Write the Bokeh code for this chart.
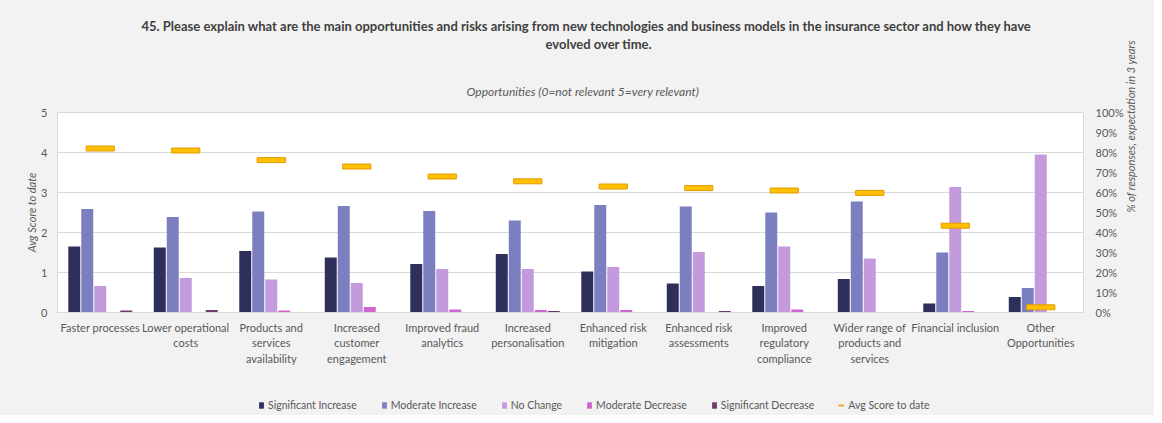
import math
from bokeh.plotting import figure
from bokeh.layouts import column
from bokeh.models import (Range1d, LinearAxis, FixedTicker, Legend, LegendItem, Title,
                          PrintfTickFormatter, ColumnDataSource)
from bokeh.transform import dodge
from bokeh.embed import file_html
from bokeh.resources import INLINE

# ---------------- data ----------------
categories = ["Faster processes", "Lower operational costs", "Products and services availability",
              "Increased customer engagement", "Improved fraud analytics", "Increased personalisation",
              "Enhanced risk mitigation", "Enhanced risk assessments", "Improved regulatory compliance",
              "Wider range of products and services", "Financial inclusion", "Other Opportunities"]
category_labels = ["Faster processes", "Lower operational\ncosts", "Products and\nservices\navailability",
                   "Increased\ncustomer\nengagement", "Improved fraud\nanalytics", "Increased\npersonalisation",
                   "Enhanced risk\nmitigation", "Enhanced risk\nassessments", "Improved\nregulatory\ncompliance",
                   "Wider range of\nproducts and\nservices", "Financial inclusion", "Other\nOpportunities"]

# % of responses, expectation in 3 years
significant_increase = [33.0, 32.5, 30.7, 27.5, 24.2, 29.2, 20.5, 14.5, 13.2, 16.8, 4.5, 7.8]
moderate_increase = [51.8, 47.7, 50.5, 53.3, 50.8, 46.0, 53.8, 53.0, 50.0, 55.5, 30.0, 12.3]
no_change = [13.2, 17.2, 16.5, 14.7, 21.7, 21.7, 22.7, 30.3, 33.0, 27.0, 62.8, 79.0]
moderate_decrease = [0.0, 0.0, 1.0, 2.8, 1.5, 1.2, 1.2, 0.0, 1.5, 0.0, 0.8, 0.0]
significant_decrease = [1.0, 1.3, 0.0, 0.0, 0.0, 0.8, 0.0, 0.8, 0.0, 0.0, 0.0, 0.0]
# Avg score to date (0-5)
avg_score = [4.10, 4.05, 3.81, 3.65, 3.40, 3.28, 3.15, 3.11, 3.05, 2.99, 2.17, 0.13]

series_names = ["Significant Increase", "Moderate Increase", "No Change", "Moderate Decrease", "Significant Decrease"]
series_values = [significant_increase, moderate_increase, no_change, moderate_decrease, significant_decrease]
series_colors = ["#2f2f5b", "#7b7fbf", "#c39bdc", "#cf66cf", "#6b3b6b"]
avg_name = "Avg Score to date"

left_ticks = [0, 1, 2, 3, 4, 5]
right_ticks = [0, 10, 20, 30, 40, 50, 60, 70, 80, 90, 100]

title_line1 = "45. Please explain what are the main opportunities and risks arising from new technologies and business models in the insurance sector and how they have"
title_line2 = "evolved over time."
subtitle = "Opportunities (0=not relevant 5=very relevant)"

FONT = "Lato"
GREY = "#595959"
BG = "#f2f2f2"
NAN = float("nan")

idx = list(range(len(categories)))
data = dict(idx=idx, avg=avg_score)
keys = ["s0", "s1", "s2", "s3", "s4"]
for k, v in zip(keys, series_values):
    data[k] = v
src = ColumnDataSource(data)

# ---------------- main chart ----------------
p = figure(width=1154, height=375, output_backend="svg", toolbar_location=None, title=None,
           x_range=Range1d(-0.5, len(categories) - 0.5), y_range=Range1d(0, 5),
           min_border_left=57, min_border_right=71, min_border_top=112, min_border_bottom=63,
           background_fill_color="white", border_fill_color=BG,
           outline_line_color="#d9d9d9")
p.extra_y_ranges = {"pct": Range1d(0, 100)}

pitch = 0.152
bw = 0.14
for i, (k, c) in enumerate(zip(keys, series_colors)):
    p.vbar(x=dodge("idx", (i - 2) * pitch), top=k, width=bw, source=src,
           fill_color=c, line_color=None, y_range_name="pct")

p.rect(x="idx", y="avg", width=0.33, height=5, height_units="screen", source=src,
       fill_color="#ffc000", line_color="#e39a00", line_width=1)

p.xaxis.ticker = FixedTicker(ticks=idx)
p.xaxis.major_label_overrides = {i: lab for i, lab in zip(idx, category_labels)}
p.xaxis.axis_line_color = "#d9d9d9"
p.xaxis.major_tick_line_color = None
p.xaxis.minor_tick_line_color = None
p.xaxis.major_tick_out = 0
p.xaxis.major_tick_in = 0
p.xaxis.major_label_standoff = 8
p.xaxis.major_label_text_font = FONT
p.xaxis.major_label_text_font_size = "11px"
p.xaxis.major_label_text_color = GREY

p.yaxis.ticker = FixedTicker(ticks=left_ticks)
p.yaxis.axis_line_color = None
p.yaxis.major_tick_line_color = None
p.yaxis.minor_tick_line_color = None
p.yaxis.major_tick_out = 0
p.yaxis.major_tick_in = 0
p.yaxis.major_label_standoff = 10
p.yaxis.major_label_text_font = FONT
p.yaxis.major_label_text_font_size = "11px"
p.yaxis.major_label_text_color = GREY
p.yaxis.axis_label = "Avg Score to date"
p.yaxis.axis_label_text_font = FONT
p.yaxis.axis_label_text_font_size = "11px"
p.yaxis.axis_label_text_font_style = "italic"
p.yaxis.axis_label_text_color = GREY
p.yaxis.axis_label_standoff = 0

ra = LinearAxis(y_range_name="pct", ticker=FixedTicker(ticks=right_ticks),
                formatter=PrintfTickFormatter(format="%d%%"))
ra.axis_line_color = None
ra.major_tick_line_color = None
ra.minor_tick_line_color = None
ra.major_tick_out = 0
ra.major_tick_in = 0
ra.major_label_standoff = 12
ra.major_label_text_font = FONT
ra.major_label_text_font_size = "11px"
ra.major_label_text_color = GREY
ra.axis_label = "% of responses, expectation in 3 years"
ra.axis_label_text_font = FONT
ra.axis_label_text_font_size = "11px"
ra.axis_label_text_font_style = "italic"
ra.axis_label_text_color = GREY
ra.axis_label_standoff = 4
try:
    ra.axis_label_orientation = math.pi / 2
except Exception:
    pass
p.add_layout(ra, "right")

p.xgrid.grid_line_color = None
p.ygrid.grid_line_color = "#d9d9d9"
p.ygrid.ticker = FixedTicker(ticks=left_ticks)

# titles (added from the plot outward)
p.add_layout(Title(text=subtitle, align="left", offset=409,
                   text_font=FONT, text_font_size="12px", text_font_style="italic",
                   text_color=GREY, standoff=27), "above")
p.add_layout(Title(text=" ", text_font_size="10px", standoff=4), "above")
p.add_layout(Title(text=title_line2, align="left", offset=488,
                   text_font=FONT, text_font_size="13px", text_font_style="bold",
                   text_color="#404040", standoff=0), "above")
p.add_layout(Title(text=title_line1, align="left", offset=84,
                   text_font=FONT, text_font_size="13px", text_font_style="bold",
                   text_color="#404040", standoff=0), "above")

# ---------------- legend strip ----------------
lg = figure(width=1154, height=40, output_backend="svg", toolbar_location=None, title=None,
            x_axis_type=None, y_axis_type=None, x_range=Range1d(0, 1), y_range=Range1d(0, 1),
            min_border_left=0, min_border_right=0, min_border_top=0, min_border_bottom=0,
            background_fill_color=BG, border_fill_color=BG, outline_line_color=None)
lg.xgrid.visible = False
lg.ygrid.visible = False
# legend-only swatches (no visible data)
swatches = [lg.vbar(x=[NAN], top=[NAN], width=0.1, fill_color=c, line_color=None) for c in series_colors]
avg_sw = lg.line(x=[NAN, NAN], y=[NAN, NAN], line_color="#f0a830", line_width=2)
items = [LegendItem(label=n, renderers=[r]) for n, r in zip(series_names, swatches)]
items.append(LegendItem(label=avg_name, renderers=[avg_sw]))
legend = Legend(items=items, orientation="horizontal", location=(201, 4),
                background_fill_alpha=0, border_line_color=None,
                label_text_font=FONT, label_text_font_size="10.5px", label_text_color=GREY,
                glyph_width=6, glyph_height=8, spacing=24, label_standoff=4,
                padding=0, margin=0)
lg.add_layout(legend, "center")

layout = column(p, lg, spacing=0)
layout.styles = {"background-color": BG}
open("out.html", "w").write(file_html(layout, INLINE))
